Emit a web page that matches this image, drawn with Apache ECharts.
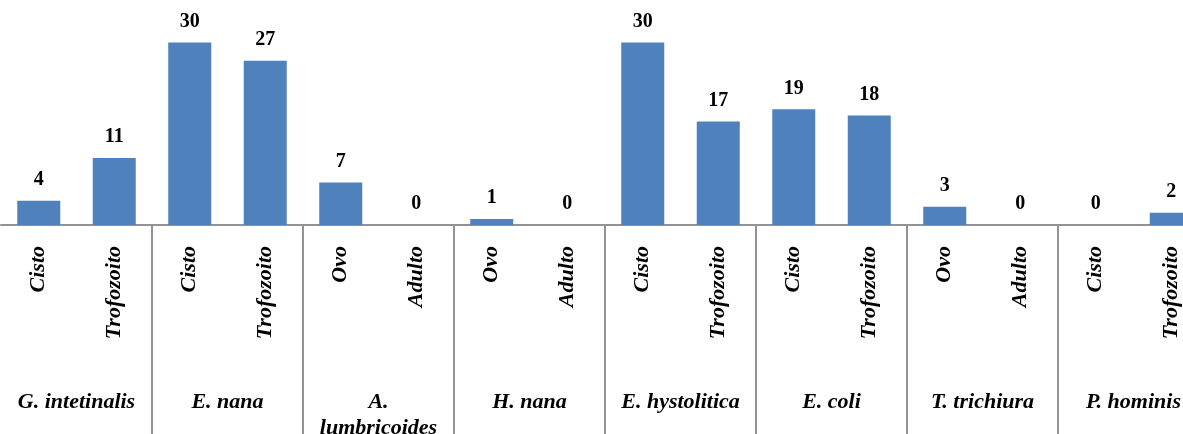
<!DOCTYPE html>
<html>
<head>
<meta charset="utf-8">
<script src="https://cdn.jsdelivr.net/npm/echarts@6/dist/echarts.min.js"></script>
<style>
  html, body { margin: 0; padding: 0; background: #fff; }
  #chart { width: 1183px; height: 434px; }
</style>
</head>
<body>
<div id="chart"></div>
<script>
// Stage of each parasite (one bar per stage)
const stages = [
  'Cisto', 'Trofozoito',
  'Cisto', 'Trofozoito',
  'Ovo', 'Adulto',
  'Ovo', 'Adulto',
  'Cisto', 'Trofozoito',
  'Cisto', 'Trofozoito',
  'Ovo', 'Adulto',
  'Cisto', 'Trofozoito'
];

// Parasite species, each spanning two stages
const species = [
  'G. intetinalis', 'E. nana', 'A. lumbricoides', 'H. nana',
  'E. hystolitica', 'E. coli', 'T. trichiura', 'P. hominis'
];

// Number of positive samples per stage
const counts = [4, 11, 30, 27, 7, 0, 1, 0, 30, 17, 19, 18, 3, 0, 0, 2];

const GREY = '#929292';
const SERIF = '"Liberation Serif", "Times New Roman", serif';

const chart = echarts.init(document.getElementById('chart'));

chart.setOption({
  animation: false,
  backgroundColor: '#ffffff',
  // plot area runs past the right edge of the canvas
  grid: {
    left: 1, width: 1208, top: 12, height: 213,
    containLabel: false,
    outerBoundsMode: 'none'
  },
  xAxis: [
    {
      type: 'category',
      data: stages,
      position: 'bottom',
      axisLine: { show: true, lineStyle: { color: GREY, width: 2 } },
      axisTick: { show: false },
      axisLabel: {
        interval: 0,
        rotate: 90,
        margin: 21,
        color: '#000',
        fontFamily: SERIF,
        fontStyle: 'italic',
        fontWeight: 'bold',
        fontSize: 22
      }
    },
    {
      type: 'category',
      data: species,
      position: 'bottom',
      axisLine: { show: false },
      axisTick: {
        show: true,
        length: 212,
        interval: (index) => index > 0,
        lineStyle: { color: GREY, width: 2 }
      },
      axisLabel: {
        interval: 0,
        margin: 164,
        color: '#000',
        fontFamily: SERIF,
        fontStyle: 'italic',
        fontWeight: 'bold',
        fontSize: 22,
        lineHeight: 26,
        formatter: (v) => v.length > 14 ? v.replace(' ', '\n') : v
      }
    }
  ],
  yAxis: {
    type: 'value',
    min: 0,
    max: 35,
    show: false,
    splitLine: { show: false }
  },
  series: [
    {
      type: 'bar',
      data: counts,
      xAxisIndex: 0,
      barWidth: 43,
      itemStyle: { color: '#4F81BD' },
      label: {
        show: true,
        position: 'top',
        distance: 11,
        color: '#000',
        fontFamily: SERIF,
        fontWeight: 'bold',
        fontSize: 20
      }
    }
  ]
});
</script>
</body>
</html>
